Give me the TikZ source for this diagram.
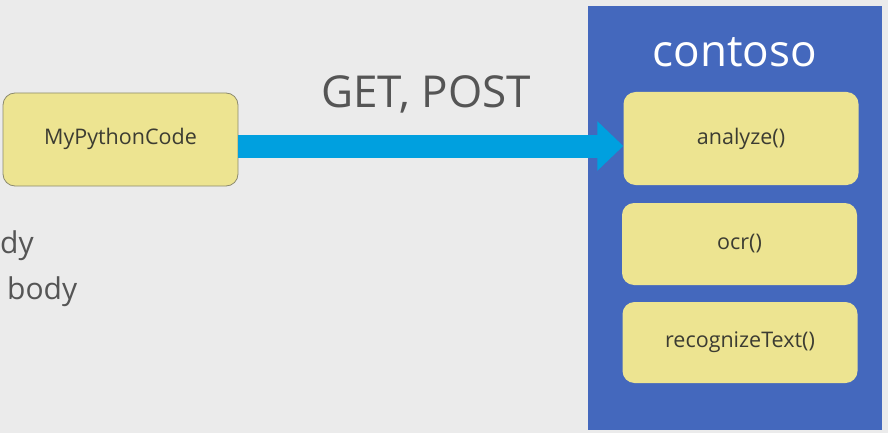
\documentclass[tikz,border=0pt]{standalone}
\usepackage{fontspec}
\setmainfont{Open Sans}
\usetikzlibrary{arrows.meta}
\definecolor{bg}{HTML}{EBEBEB}
\definecolor{panel}{HTML}{4468BD}
\definecolor{boxy}{HTML}{EDE491}
\definecolor{boxedge}{HTML}{8C8A6E}
\definecolor{arrowc}{HTML}{00A0DF}
\definecolor{txtd}{HTML}{3C3C32}
\definecolor{txtg}{HTML}{555555}
\begin{document}
\begin{tikzpicture}[x=1pt,y=-1pt,
  ybox/.style={draw=none,fill=boxy,rounded corners=12pt,minimum width=235pt,inner sep=0pt,text=txtd,font=\fontsize{21.5}{21.5}\selectfont},
  callarrow/.style={line width=23pt,arrowc,-{Triangle[length=26pt,width=48pt]}}
]
\fill[bg] (0,0) rectangle (888,433);
\useasboundingbox (0,0) rectangle (888,433);
\fill[panel] (588,6) rectangle (882,430);
\node[text=white,font=\fontsize{44}{44}\selectfont,anchor=center] (ct) at (735,52) {contoso};
\node[ybox,draw=boxedge,line width=0.8pt,minimum height=93pt] (py) at (120.5,139.5) {\raisebox{7pt}{MyPythonCode}};
\node[ybox,minimum height=93pt] (an) at (741,138.5) {\raisebox{5pt}{analyze()}};
\node[ybox,minimum height=82pt] (oc) at (739.5,244) {ocr()};
\node[ybox,minimum height=81pt] (rt) at (740,342.5) {recognizeText()};
\draw[callarrow] (py.east |- 0,146) -- (an.west |- 0,146);
\node[text=txtg,font=\fontsize{44}{44}\selectfont] (gp) at (426,94) {GET, POST};
\node[text=txtg,font=\fontsize{30}{30}\selectfont,anchor=west,inner sep=0pt] (b1) at (0,246) {dy};
\node[text=txtg,font=\fontsize{30}{30}\selectfont,anchor=west,inner sep=0pt] (b2) at (7,292) {body};
\end{tikzpicture}
\end{document}
